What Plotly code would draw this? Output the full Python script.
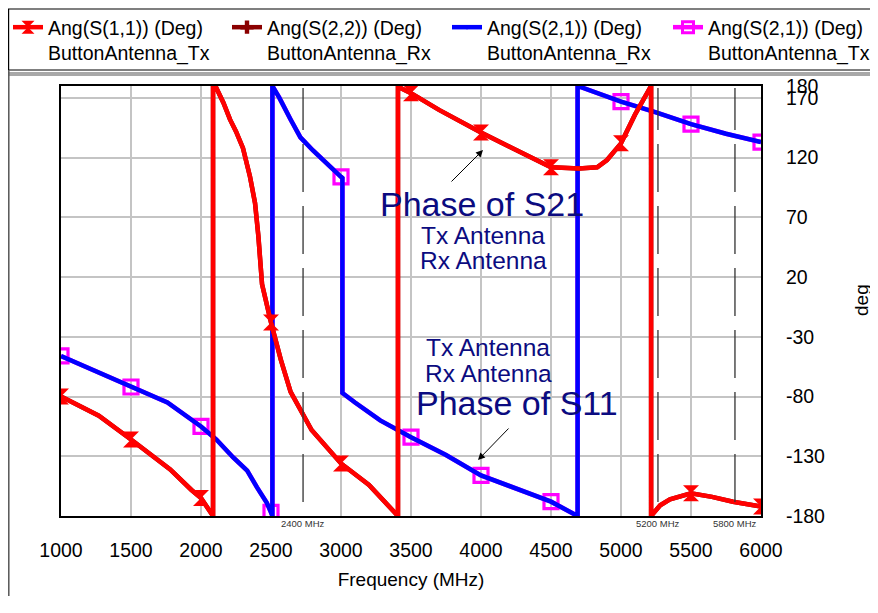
import plotly.graph_objects as go

# ---------------- data ----------------
freq_ticks = [1000, 1500, 2000, 2500, 3000, 3500, 4000, 4500, 5000, 5500, 6000]
phase_ticks = [180, 170, 120, 70, 20, -30, -80, -130, -180]

# Ang(S(1,1)) Tx  (Ang(S(2,2)) Rx lies underneath it)
s11_freq = [1000, 1270, 1500, 1640, 1780, 1930, 2000, 2086, 2086, 2107, 2160, 2207, 2250,
            2300, 2350, 2386, 2410, 2436, 2471, 2500, 2570, 2640, 2790, 3000, 3200, 3280,
            3407, 3407, 3430, 3500, 3700, 4000, 4250, 4500, 4700, 4830, 4900, 5000,
            5100, 5215, 5215, 5280, 5350, 5500, 5650, 5800, 6000]
s11_phase = [-80, -96, -116, -128, -141, -158, -165, -180, 180, 179, 166, 152, 142,
             128, 104, 82, 54, 14, -6, -18, -49, -76, -108, -136, -154, -164,
             -180, 180, 178, 174, 160, 141, 126, 112, 111, 112, 118, 132,
             156, 180, -180, -171, -166, -161, -164, -168, -172]

# Ang(S(2,1)) Rx  (Ang(S(2,1)) Tx lies underneath it)
s21_freq = [1000, 1270, 1500, 1760, 2000, 2110, 2230, 2330, 2400, 2470, 2500, 2510,
            2510, 2560, 2640, 2710, 2800, 2920, 3000, 3010, 3010, 3100, 3280, 3500,
            3750, 4000, 4250, 4500, 4690, 4690, 5000, 5250, 5500, 5750, 6000]
s21_phase = [-46, -60, -72, -85, -105, -116, -131, -142, -156, -169, -177, -180,
             180, 170, 152, 137, 126, 112, 104, 103, -77, -85, -100, -114,
             -129, -146, -157, -168, -180, 180, 167, 158, 148, 140, 133]

marker_step = 500

marker_line_freq = [2729, 5264, 5814]
marker_line_text = ["2400 MHz", "5200 MHz", "5800 MHz"]

series_names = [
    "Ang(S(1,1)) (Deg)<br>ButtonAntenna_Tx",
    "Ang(S(2,2)) (Deg)<br>ButtonAntenna_Rx",
    "Ang(S(2,1)) (Deg)<br>ButtonAntenna_Rx",
    "Ang(S(2,1)) (Deg)<br>ButtonAntenna_Tx",
]

# ---------------- layout helpers ----------------
OFF = 8                      # page body margin of the browser
W, H = 878 - OFF, 588
ML, MT = 61 - OFF, 86 - OFF
PW, PH = 700, 430
MR = W - ML - PW
MB = H - MT - PH
FONT = "Liberation Sans, Arial, sans-serif"


def px(x):  # reference pixel -> paper
    return (x - OFF - ML) / PW


def py(y):
    return (MT + PH - (y - OFF)) / PH


def subset(f, p):
    xs, ys = [], []
    for a, b in zip(f, p):
        if a % marker_step == 0 and a not in xs:
            xs.append(a)
            ys.append(b)
    return xs, ys


RED = "#ff0000"
DRED = "#8b0000"
BLUE = "#0000ff"
MAG = "#ff00ff"
LW = 4.5

fig = go.Figure()

# magenta S21 Tx (under blue)
mx, my = subset(s21_freq, s21_phase)
fig.add_trace(go.Scatter(x=s21_freq, y=s21_phase, mode="lines",
                         line=dict(color=MAG, width=LW), showlegend=False))
fig.add_trace(go.Scatter(x=mx, y=my, mode="markers", showlegend=False,
                         marker=dict(symbol="square-open", size=14, color=MAG,
                                     line=dict(width=3.2, color=MAG))))
# blue S21 Rx
fig.add_trace(go.Scatter(x=s21_freq, y=s21_phase, mode="lines",
                         line=dict(color=BLUE, width=LW), showlegend=False))
# dark red S22 Rx (under red)
fig.add_trace(go.Scatter(x=s11_freq, y=s11_phase, mode="lines",
                         line=dict(color=DRED, width=LW), showlegend=False))
# red S11 Tx
rx, ry = subset(s11_freq, s11_phase)
fig.add_trace(go.Scatter(x=s11_freq, y=s11_phase, mode="lines",
                         line=dict(color=RED, width=LW), showlegend=False))
fig.add_trace(go.Scatter(x=rx, y=ry, mode="markers", showlegend=False,
                         marker=dict(symbol="hourglass", size=16, color=RED)))

# legend entries (one legend each, laid out in a row)
leg_styles = [
    dict(line=dict(color=RED, width=LW), marker=dict(symbol="hourglass", size=13, color=RED)),
    dict(line=dict(color=DRED, width=LW), marker=dict(symbol="cross", size=11, color=DRED)),
    dict(line=dict(color=BLUE, width=LW), marker=dict(symbol="triangle-down", size=5, color=BLUE)),
    dict(line=dict(color=MAG, width=LW), marker=dict(symbol="square-open", size=11, color=MAG,
                                                     line=dict(width=3, color=MAG))),
]
leg_ids = ["legend", "legend2", "legend3", "legend4"]
leg_x = [8, 227, 447, 668]
for name, st, lid in zip(series_names, leg_styles, leg_ids):
    fig.add_trace(go.Scatter(x=[None], y=[None], mode="lines+markers", name=name,
                             legend=lid, **st))

legend_common = dict(xref="container", yref="container", xanchor="left", yanchor="top",
                     bgcolor="rgba(0,0,0,0)", borderwidth=0, valign="top",
                     font=dict(family=FONT, size=19.5, color="black"))
lay_leg = {}
for lid, lx in zip(leg_ids, leg_x):
    lay_leg[lid] = dict(x=max(0.0, (lx - OFF) / W), y=1 - (8 - OFF) / H, **legend_common)

shapes = []
# legend frame and header band
shapes.append(dict(type="rect", xref="paper", yref="paper", x0=px(8.6), x1=px(900),
                   y0=py(70), y1=py(9), line=dict(color="black", width=1.2)))
shapes.append(dict(type="rect", xref="paper", yref="paper", x0=px(8), x1=px(900),
                   y0=py(76), y1=py(72), line=dict(width=0), fillcolor="#a8a8a8"))
shapes.append(dict(type="line", xref="paper", yref="paper", x0=px(8.8), x1=px(8.8),
                   y0=py(70), y1=py(620), line=dict(color="#555555", width=1.5)))
# marker lines
for f in marker_line_freq:
    shapes.append(dict(type="line", xref="x", yref="paper", x0=f, x1=f,
                       y0=py(502), y1=py(88),
                       line=dict(color="#333333", width=1.3, dash="48px,14px")))

annotations = []
for f, t in zip(marker_line_freq, marker_line_text):
    annotations.append(dict(x=f, xref="x", y=py(523), yref="paper", text=t,
                            xanchor="center", yanchor="middle",
                            showarrow=False, font=dict(family=FONT, size=9.5, color="#333333")))

NAVY = "#0b0b80"
texts = [
    ("Phase of S21", 482, 204, 34),
    ("Tx Antenna", 483, 236, 24.5),
    ("Rx Antenna", 483, 261, 24.5),
    ("Tx Antenna", 488, 347, 24.5),
    ("Rx Antenna", 488, 373, 24.5),
    ("Phase of S11", 517, 403, 34),
]
for t, x, y, s in texts:
    annotations.append(dict(x=px(x), y=py(y), xref="paper", yref="paper", text=t,
                            xanchor="center", yanchor="middle",
                            showarrow=False, font=dict(family=FONT, size=s, color=NAVY)))

# y axis title
annotations.append(dict(x=px(861), y=py(300), xref="paper", yref="paper", text="deg",
                        textangle=-90, xanchor="center", yanchor="middle", showarrow=False,
                        font=dict(family=FONT, size=19, color="black")))

# arrows
annotations.append(dict(x=px(483), y=py(150), xref="paper", yref="paper", text="",
                        showarrow=True, arrowhead=2, arrowsize=1.4, arrowwidth=1,
                        arrowcolor="black", ax=-33, ay=33))
annotations.append(dict(x=px(478), y=py(460), xref="paper", yref="paper", text="",
                        showarrow=True, arrowhead=2, arrowsize=1.4, arrowwidth=1,
                        arrowcolor="black", ax=32, ay=-33))

fig.update_layout(
    width=W, height=H,
    margin=dict(l=ML, r=MR, t=MT, b=MB, autoexpand=False),
    paper_bgcolor="white", plot_bgcolor="white",
    font=dict(family=FONT, color="black"),
    shapes=shapes, annotations=annotations,
    **lay_leg,
)

fig.update_xaxes(range=[1000, 6000], tickvals=freq_ticks, ticktext=[str(v) for v in freq_ticks],
                 showgrid=True, gridcolor="#c4c4c4", gridwidth=1.5,
                 showline=True, mirror=True, linecolor="black", linewidth=2,
                 ticks="", ticklabelstandoff=16, zeroline=False,
                 tickfont=dict(family=FONT, size=19.5, color="black"),
                 title=dict(text="Frequency (MHz)", standoff=12,
                            font=dict(family=FONT, size=19, color="black")))
fig.update_yaxes(range=[-180, 180], tickvals=phase_ticks, ticktext=[str(v) for v in phase_ticks],
                 side="right", showgrid=True, gridcolor="#c4c4c4", gridwidth=1.5,
                 showline=True, mirror=True, linecolor="black", linewidth=2,
                 ticks="", ticklabelstandoff=19, zeroline=False,
                 tickfont=dict(family=FONT, size=19.5, color="black"))

fig.write_html("out.html")
